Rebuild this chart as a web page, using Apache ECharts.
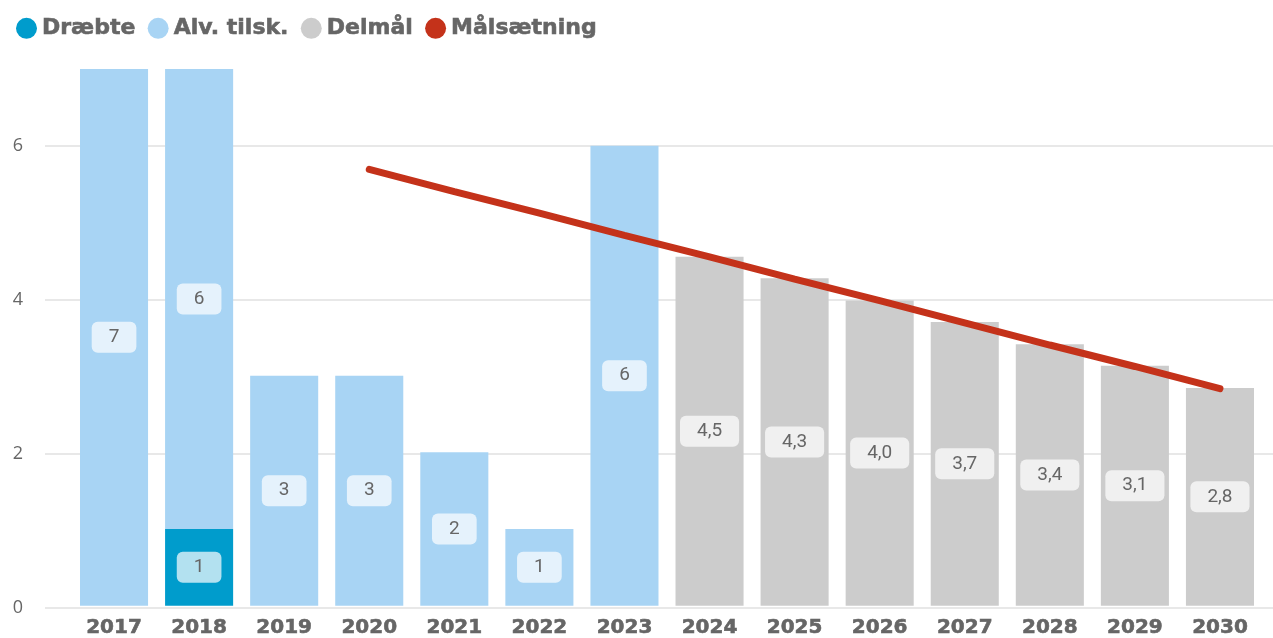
<!DOCTYPE html>
<html><head><meta charset="utf-8">
<script src="https://cdn.jsdelivr.net/npm/echarts@6/dist/echarts.min.js"></script>
<style>html,body{margin:0;padding:0;background:#fff}#c{width:1273px;height:638px}</style>
</head><body><div id="c"></div>
<script>
const categories = ['2017','2018','2019','2020','2021','2022','2023','2024','2025','2026','2027','2028','2029','2030'];
const draebte = [null,1,null,null,null,null,null,null,null,null,null,null,null,null];
const alvTilsk = [7,6,3,3,2,1,6,null,null,null,null,null,null,null];
const delmaal = [null,null,null,null,null,null,null,4.55,4.27,3.98,3.70,3.41,3.13,2.84];
const maalsaetning = [null,null,null,5.69,5.40,5.12,4.83,4.55,4.26,3.98,3.69,3.40,3.12,2.83];

const chart = echarts.init(document.getElementById('c'));
const labelStyle = {
  show: true, position: 'inside', color: '#666', fontSize: 19,
  fontFamily: 'Roboto', backgroundColor: 'rgba(255,255,255,0.7)',
  borderRadius: 6, padding: [6, 17],
  formatter: p => (Number.isInteger(p.value) ? String(p.value) : p.value.toFixed(1).replace('.', ','))
};
const heavy = {fontFamily: 'DejaVu Sans', fontWeight: 'bold', color: '#666', textBorderColor: '#666', textBorderWidth: 0.6};
chart.setOption({
  animation: false,
  legend: {
    left: 11, top: 12, itemWidth: 21, itemHeight: 21, itemGap: 12, icon: 'circle',
    textStyle: Object.assign({fontSize: 22}, heavy),
    data: ['Dræbte','Alv. tilsk.','Delmål','Målsætning']
  },
  grid: [
    {left: 71.5, right: 10.5, top: 69, bottom: 30},
    {left: 45, right: 0, top: 146, bottom: 30}
  ],
  xAxis: [
    {type: 'category', gridIndex: 0, data: categories,
     axisTick: {show: false}, axisLine: {show: false},
     axisLabel: Object.assign({fontSize: 20, margin: 12}, heavy)},
    {type: 'category', gridIndex: 1, data: categories, show: false}
  ],
  yAxis: [
    {type: 'value', gridIndex: 0, min: 0, max: 7, interval: 1, show: false, splitLine: {show: false}},
    {type: 'value', gridIndex: 1, min: 0, max: 6, interval: 2,
     axisLine: {show: false}, axisTick: {show: false},
     axisLabel: {color: '#666', fontSize: 18, fontFamily: 'Open Sans', margin: 22},
     splitLine: {show: true, lineStyle: {color: '#e8e8e8', width: 2}}}
  ],
  series: [
    {name: 'Dræbte', type: 'bar', stack: 's', barWidth: '80%', data: draebte,
     itemStyle: {color: '#009ccc'}, label: labelStyle, z: 3},
    {name: 'Alv. tilsk.', type: 'bar', stack: 's', barWidth: '80%', data: alvTilsk,
     itemStyle: {color: '#a8d4f4'}, label: labelStyle, z: 3},
    {name: 'Delmål', type: 'bar', stack: 's', barWidth: '80%', data: delmaal,
     itemStyle: {color: '#cccccc'}, label: labelStyle, z: 3},
    {name: 'Målsætning', type: 'line', data: maalsaetning, showSymbol: false, symbol: 'circle',
     itemStyle: {color: '#c4321a'},
     lineStyle: {color: '#c4321a', width: 7, cap: 'round'}, z: 5}
  ]
});
</script></body></html>
